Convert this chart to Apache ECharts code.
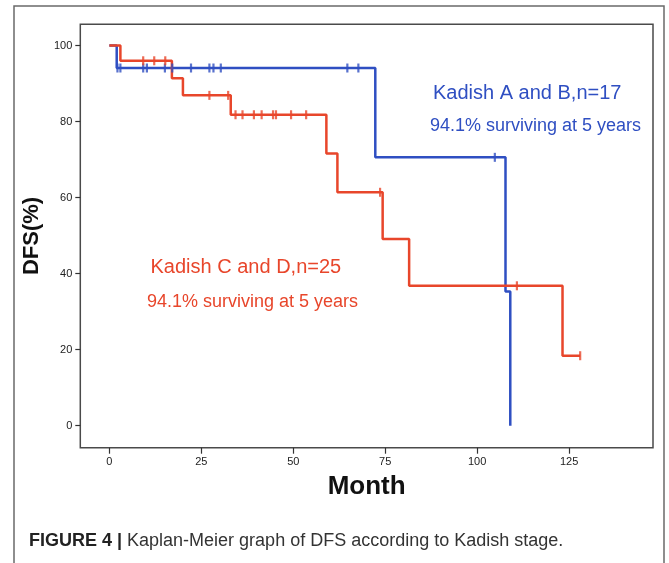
<!DOCTYPE html>
<html>
<head>
<meta charset="utf-8">
<title>Kaplan-Meier DFS by Kadish stage</title>
<script src="https://cdn.jsdelivr.net/npm/echarts@6/dist/echarts.min.js"></script>
<style>
  html, body { margin: 0; padding: 0; background: #fff; }
  #chart { width: 669px; height: 563px; }
</style>
</head>
<body>
<div id="chart"></div>
<script>
// Kadish C and D (red): step times (months) and DFS (%) after each step
var redTimes = [0, 3, 17, 20, 33, 59, 62, 74.3, 81.5, 123.2, 128];
var redSurv = [100, 96, 91.4, 86.9, 81.8, 71.6, 61.4, 49.1, 36.8, 18.4, 18.4];
var redCensor = [9.2, 12.2, 15.2, 27.2, 32.3, 34.3, 36.2, 39.3, 41.4, 44.5, 45.3, 49.4, 53.5, 73.6, 110.8, 128];

// Kadish A and B (blue)
var blueTimes = [0, 2, 72.3, 107.7, 109];
var blueSurv = [100, 94.1, 70.6, 35.3, 0];
var blueCensor = [2.2, 3.0, 9.2, 10.2, 15.1, 17.1, 22.2, 27.2, 28.3, 30.3, 64.7, 67.7, 104.8];

var xTicks = [0, 25, 50, 75, 100, 125];
var yTicks = [0, 20, 40, 60, 80, 100];

var blue = "#2f4fc2";
var red = "#e8462b";
var font = "'Liberation Sans', Arial, sans-serif";

function pairs(t, s) {
  return t.map(function (v, i) { return [v, s[i]]; });
}
// survival level of the curve at time t (marks sit on the curve)
function levelAt(t, times, surv) {
  var lvl = surv[0];
  for (var i = 0; i < times.length; i++) {
    if (times[i] <= t) lvl = surv[i];
  }
  return lvl;
}
function marks(cens, times, surv) {
  return cens.map(function (c) { return [c, levelAt(c, times, surv)]; });
}

var myChart = echarts.init(document.getElementById("chart"));
myChart.setOption({
  animation: false,
  backgroundColor: "#fff",
  grid: {
    left: 80.3,
    right: 16,
    top: 24.3,
    bottom: 115.3,
    show: true,
    borderColor: "#4a4a4a",
    borderWidth: 1.5,
    backgroundColor: "transparent"
  },
  xAxis: {
    type: "value",
    min: -7.9,
    max: 147.8,
    name: "Month",
    nameLocation: "middle",
    nameGap: 26,
    nameTextStyle: { fontFamily: font, fontSize: 26, fontWeight: "bold", color: "#111" },
    axisLine: { show: false, onZero: false },
    axisTick: { show: true, length: 6, customValues: xTicks, lineStyle: { color: "#333", width: 1.2 } },
    axisLabel: { customValues: xTicks, margin: 9, fontFamily: font, fontSize: 11, color: "#222" },
    splitLine: { show: false }
  },
  yAxis: {
    type: "value",
    min: -5.8,
    max: 105.6,
    name: "DFS(%)",
    nameLocation: "middle",
    nameRotate: 90,
    nameGap: 32,
    nameTextStyle: { fontFamily: font, fontSize: 22, fontWeight: "bold", color: "#111" },
    axisLine: { show: false, onZero: false },
    axisTick: { show: true, length: 5, customValues: yTicks, lineStyle: { color: "#333", width: 1.2 } },
    axisLabel: { customValues: yTicks, margin: 8, fontFamily: font, fontSize: 11, color: "#222" },
    splitLine: { show: false }
  },
  graphic: [
    {
      type: "rect",
      shape: { x: 14, y: 6, width: 650, height: 580 },
      style: { fill: "none", stroke: "#6a6a6a", lineWidth: 1.5 },
      silent: true
    },
    {
      type: "text", x: 433, y: 93,
      style: { text: "Kadish A and B,n=17", fill: blue, fontFamily: font, fontSize: 20, textVerticalAlign: "middle" }
    },
    {
      type: "text", x: 430, y: 126,
      style: { text: "94.1% surviving at 5 years", fill: blue, fontFamily: font, fontSize: 18, textVerticalAlign: "middle" }
    },
    {
      type: "text", x: 150.5, y: 267,
      style: { text: "Kadish C and D,n=25", fill: red, fontFamily: font, fontSize: 20, textVerticalAlign: "middle" }
    },
    {
      type: "text", x: 147, y: 302,
      style: { text: "94.1% surviving at 5 years", fill: red, fontFamily: font, fontSize: 18, textVerticalAlign: "middle" }
    },
    {
      type: "text", x: 29, y: 541,
      style: {
        text: "{b|FIGURE 4 |} Kaplan-Meier graph of DFS according to Kadish stage.",
        fill: "#333",
        fontFamily: font,
        fontSize: 18,
        textVerticalAlign: "middle",
        rich: { b: { fontWeight: "bold", fill: "#222", fontFamily: font, fontSize: 18 } }
      }
    }
  ],
  series: [
    {
      name: "Kadish A and B",
      type: "line",
      step: "end",
      data: pairs(blueTimes, blueSurv),
      showSymbol: false,
      lineStyle: { color: blue, width: 2.5 },
      z: 2
    },
    {
      name: "Kadish C and D",
      type: "line",
      step: "end",
      data: pairs(redTimes, redSurv),
      showSymbol: false,
      lineStyle: { color: red, width: 2.5 },
      z: 3
    },
    {
      name: "A and B censored",
      type: "scatter",
      data: marks(blueCensor, blueTimes, blueSurv),
      symbol: "rect",
      symbolSize: [2.2, 9],
      itemStyle: { color: blue },
      z: 4
    },
    {
      name: "C and D censored",
      type: "scatter",
      data: marks(redCensor, redTimes, redSurv),
      symbol: "rect",
      symbolSize: [2.2, 9],
      itemStyle: { color: red },
      z: 5
    }
  ]
});
</script>
</body>
</html>
